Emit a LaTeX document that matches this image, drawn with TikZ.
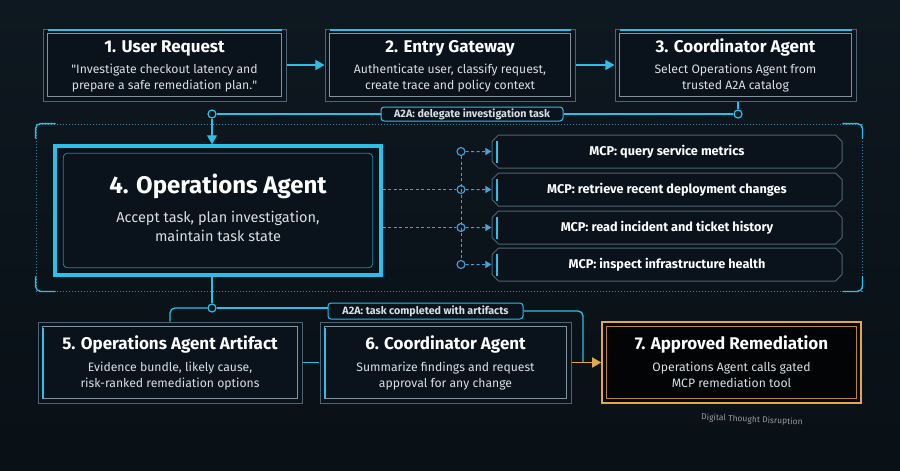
\documentclass[tikz,border=0pt]{standalone}
\usepackage{fontspec}
\setmainfont{Fira Sans}
\usetikzlibrary{calc,arrows.meta,shapes.misc}

\definecolor{bg}{HTML}{0E1820}
\definecolor{bgdark}{HTML}{091016}
\definecolor{cardfill}{HTML}{0A131B}
\definecolor{cardedge}{HTML}{4E6474}
\definecolor{glow}{HTML}{2CBFE8}
\definecolor{mcpblue}{HTML}{4C9ED6}
\definecolor{gold}{HTML}{E2A847}
\definecolor{frameline}{HTML}{3C86A8}
\definecolor{bodytext}{HTML}{D9DEE3}

\begin{document}
\begin{tikzpicture}[x=1pt,y=-1pt,
  card/.style={chamfered rectangle,chamfered rectangle xsep=3pt,draw=cardedge,line width=1pt,fill=cardfill,inner sep=0pt},
  cardtitle/.style={font=\fontsize{17}{20}\selectfont\bfseries,text=white,anchor=base,inner sep=0pt},
  cardtext/.style={font=\fontsize{12.2}{16}\selectfont,text=bodytext,align=center,anchor=base,inner sep=0pt},
  mcpbox/.style={card,minimum width=350pt,minimum height=33pt,font=\fontsize{12.7}{14}\selectfont\bfseries,text=white},
  tag/.style={draw=glow,line width=1pt,fill=cardfill,rounded corners=3pt,inner sep=0pt,font=\fontsize{10.7}{12}\selectfont\bfseries,text=bodytext},
  junction/.style={circle,draw=glow,line width=1.2pt,fill=bg,inner sep=0pt,minimum size=8pt},
  mcpdot/.style={circle,draw=mcpblue,line width=1.1pt,fill=bg,inner sep=0pt,minimum size=8pt},
  link/.style={draw=glow,line width=1.3pt},
  flow/.style={link,-{Triangle[length=9pt,width=10pt]}},
  mcplink/.style={draw=mcpblue,line width=1pt,dash pattern=on 3pt off 2.5pt}]

  % background
  \path[use as bounding box,top color=bg,bottom color=bgdark] (0,0) rectangle (900,471);

  % group frame round the operations agent
  \node[draw=frameline,line width=0.8pt,dash pattern=on 1.2pt off 1.8pt,minimum width=826pt,minimum height=167pt,inner sep=0pt] (grp) at (449,207.5) {};
  \draw[link,rounded corners=5pt] ($(grp.north west)+(0,15)$) -- (grp.north west) -- ($(grp.north west)+(20,0)$);
  \draw[link,rounded corners=5pt] ($(grp.south west)+(0,-15)$) -- (grp.south west) -- ($(grp.south west)+(20,0)$);
  \draw[link,rounded corners=5pt] ($(grp.north east)+(0,15)$) -- (grp.north east) -- ($(grp.north east)+(-20,0)$);
  \draw[link,rounded corners=5pt] ($(grp.south east)+(0,-15)$) -- (grp.south east) -- ($(grp.south east)+(-20,0)$);

  % top row
  \node[card,minimum width=243pt,minimum height=72pt] (b1) at (164.5,65) {};
  \node[card,minimum width=250pt,minimum height=72pt] (b2) at (450,65) {};
  \node[card,minimum width=241pt,minimum height=72pt] (b3) at (735.5,65) {};
  \foreach \b in {b1,b2,b3} {
    \draw[cardedge!70,line width=0.6pt] ($(\b.north -| \b.west)+(5,5)$) rectangle ($(\b.south -| \b.east)+(-5,-5)$);
    \draw[glow,line width=2.5pt] ($(\b.north -| \b.west)+(5,1.5)$) -- ($(\b.north -| \b.east)+(-5,1.5)$);
  }
  \node[cardtitle] (t1) at ($(b1.north)+(0,24)$) {1. User Request};
  \node[cardtext] (d1) at ($(b1.north)+(0,61)$) {\textquotedbl Investigate checkout latency and\\prepare a safe remediation plan.\textquotedbl};
  \node[cardtitle] (t2) at ($(b2.north)+(0,24)$) {2. Entry Gateway};
  \node[cardtext] (d2) at ($(b2.north)+(0,61)$) {Authenticate user, classify request,\\create trace and policy context};
  \node[cardtitle] (t3) at ($(b3.north)+(0,24)$) {3. Coordinator Agent};
  \node[cardtext] (d3) at ($(b3.north)+(0,61)$) {Select Operations Agent from\\trusted A2A catalog};

  % operations agent
  \node[chamfered rectangle,chamfered rectangle xsep=8pt,draw=glow,line width=3.5pt,fill=cardfill,minimum width=326pt,minimum height=129pt,inner sep=0pt] (b4) at (218,210.5) {};
  \draw[glow!70!black,line width=0.8pt,rounded corners=4pt] ($(b4.north -| b4.west)+(10,9)$) rectangle ($(b4.south -| b4.east)+(-10,-9)$);
  \node[font=\fontsize{24}{28}\selectfont\bfseries,text=white,anchor=base,inner sep=0pt] (t4) at ($(b4.north)+(0,49)$) {4. Operations Agent};
  \node[cardtext,font=\fontsize{14.5}{19}\selectfont] (d4) at ($(b4.north)+(0,97)$) {Accept task, plan investigation,\\maintain task state};

  % mcp tools
  \node[mcpbox] (mcp1) at (667,151.5) {MCP: query service metrics};
  \node[mcpbox] (mcp2) at (667,189.5) {MCP: retrieve recent deployment changes};
  \node[mcpbox] (mcp3) at (667,227.5) {MCP: read incident and ticket history};
  \node[mcpbox] (mcp4) at (667,264.5) {MCP: inspect infrastructure health};

  % bottom row
  \node[card,minimum width=264pt,minimum height=81pt] (b5) at (170,362.5) {};
  \node[card,minimum width=251pt,minimum height=81pt] (b6) at (445.5,362.5) {};
  \node[card,draw=gold,line width=1.5pt,fill=black!85!bg,minimum width=259pt,minimum height=81pt] (b7) at (731.5,362.5) {};
  \foreach \b in {b5,b6} {
    \draw[cardedge!70,line width=0.6pt] ($(\b.north -| \b.west)+(5,5)$) rectangle ($(\b.south -| \b.east)+(-5,-5)$);
  }
  \draw[gold!80!black,line width=0.7pt] ($(b7.north -| b7.west)+(5,5)$) rectangle ($(b7.south -| b7.east)+(-5,-5)$);
  \foreach \b in {mcp1,mcp2,mcp3,mcp4,b5,b6}
    \draw[glow,line width=2pt] ($(\b.north -| \b.west)+(5,6)$) -- ($(\b.south -| \b.west)+(5,-6)$);
  \node[cardtitle] (t5) at ($(b5.north)+(0,28)$) {5. Operations Agent Artifact};
  \node[cardtext] (d5) at ($(b5.north)+(0,66)$) {Evidence bundle, likely cause,\\risk-ranked remediation options};
  \node[cardtitle] (t6) at ($(b6.north)+(0,28)$) {6. Coordinator Agent};
  \node[cardtext] (d6) at ($(b6.north)+(0,66)$) {Summarize findings and request\\approval for any change};
  \node[cardtitle] (t7) at ($(b7.north)+(0,28)$) {7. Approved Remediation};
  \node[cardtext] (d7) at ($(b7.north)+(0,66)$) {Operations Agent calls gated\\MCP remediation tool};

  % a2a hand-offs
  \node[tag,minimum width=182pt,minimum height=14pt] (a2a1) at (472,114) {A2A: delegate investigation task};
  \node[tag,minimum width=195pt,minimum height=16pt] (a2a2) at (425.5,311) {A2A: task completed with artifacts};
  \node[junction] (j1) at (212,114) {};
  \node[junction] (j2) at (738,114) {};
  \node[junction] (j3) at (212,308) {};
  \coordinate (join) at (583,362.5);

  % mcp fan-out
  \node[mcpdot] (m1) at (461,151.5) {};
  \node[mcpdot] (m2) at (461,189.5) {};
  \node[mcpdot] (m3) at (461,227.5) {};
  \node[mcpdot] (m4) at (461,264.5) {};

  % connectors
  \draw[flow] (b1) -- (b2);
  \draw[flow] (b2) -- (b3);
  \draw[link] (j2 |- b3.south) -- (j2);
  \draw[link] (j2) -- (a2a1) -- (j1);
  \draw[flow] (j1) -- (j1 |- b4.north);
  \draw[link] (j3 |- b4.south) -- (j3);
  \draw[link,rounded corners=5pt] (j3) -| (b5.north);
  \draw[link] (j3) -- (j3 -| a2a2.west);
  \draw[link,rounded corners=5pt] (a2a2.east) -| (join);
  \draw[link] (b5) -- (b6);
  \draw[draw=gold,line width=1.5pt,-{Triangle[length=9pt,width=10pt]}] (b6) -- (b7);
  \draw[mcplink] (m2 -| b4.east) -- (m2);
  \draw[mcplink] (m3 -| b4.east) -- (m3);
  \draw[mcplink] (m1) -- (m4);
  \foreach \i in {1,...,4}
    \draw[mcplink,-{Triangle[length=6pt,width=7pt]}] (m\i) -- (mcp\i);

  % watermark
  \node[font=\fontsize{8.5}{10}\selectfont,text=gray!80,rotate=-3] (mark) at (752,420) {Digital Thought Disruption};
\end{tikzpicture}
\end{document}
